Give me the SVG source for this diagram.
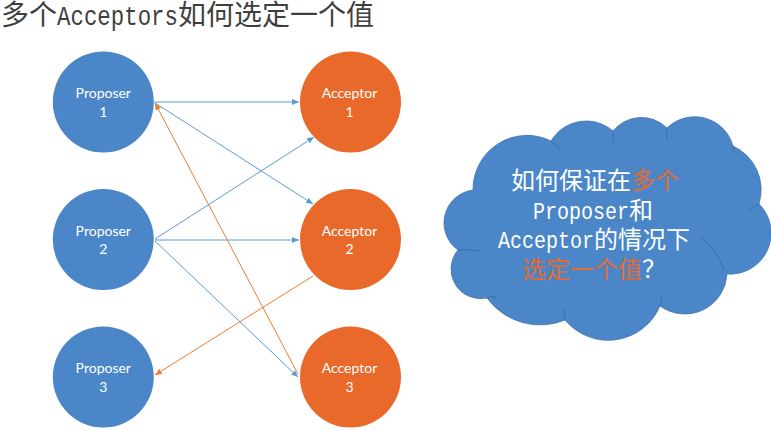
<svg xmlns="http://www.w3.org/2000/svg" width="771" height="430" viewBox="0 0 771 430">
<defs>
<style>
.title{font-family:"Noto Sans CJK SC","Noto Sans",sans-serif;font-size:28px;fill:#3f3f3f}
.mono{font-family:"Liberation Mono",monospace}
.blue{fill:#4a86c8}
.orange{fill:#e8692a}
.lbl{font-family:Lato,"Open Sans",sans-serif;font-size:14px;fill:#ffffff;text-anchor:middle}
.cl{font-family:"Noto Sans CJK SC",sans-serif;font-size:24px;fill:#ffffff}
.hl{fill:#e8692a}
.cb{stroke:#5b9bd5;stroke-width:1;fill:none;marker-end:url(#ab)}
.co{stroke:#ed7d31;stroke-width:1;fill:none;marker-end:url(#ao)}
.inner{stroke:#3d6fa8;stroke-width:1;fill:none}
</style>
<marker id="ab" markerWidth="8" markerHeight="6" refX="7" refY="3" orient="auto" markerUnits="userSpaceOnUse">
<path d="M0,0 L7,3 L0,6 Z" fill="#5b9bd5"/>
</marker>
<marker id="ao" markerWidth="8" markerHeight="6" refX="7" refY="3" orient="auto" markerUnits="userSpaceOnUse">
<path d="M0,0 L7,3 L0,6 Z" fill="#ed7d31"/>
</marker>
</defs>
<rect width="771" height="430" fill="#ffffff"/>
<text class="title" x="1" y="25">多个<tspan class="mono" textLength="121" lengthAdjust="spacingAndGlyphs">Acceptors</tspan>如何选定一个值</text>

<g id="connectors">
<line class="cb" x1="154" y1="102" x2="299" y2="102"/>
<line class="cb" x1="155" y1="103" x2="313" y2="204"/>
<line class="cb" x1="155" y1="239" x2="314" y2="137"/>
<line class="cb" x1="155" y1="240" x2="299" y2="240"/>
<line class="cb" x1="155" y1="241" x2="298" y2="377"/>
<line class="co" x1="298" y1="374" x2="155" y2="103"/>
<line class="co" x1="313" y1="276" x2="155" y2="375"/>
</g>

<g id="proposer1"><circle class="blue" cx="103.3" cy="102" r="50.5"/><text class="lbl" x="103.3" y="98.3">Proposer</text><text class="lbl" x="103.3" y="116.7">1</text></g>
<g id="proposer2"><circle class="blue" cx="103.3" cy="239.5" r="50.5"/><text class="lbl" x="103.3" y="235.8">Proposer</text><text class="lbl" x="103.3" y="254.2">2</text></g>
<g id="proposer3"><circle class="blue" cx="103.3" cy="377" r="50.5"/><text class="lbl" x="103.3" y="373.3">Proposer</text><text class="lbl" x="103.3" y="391.7">3</text></g>
<g id="acceptor1"><circle class="orange" cx="350.5" cy="102" r="50.5"/><text class="lbl" x="349.5" y="98.3">Acceptor</text><text class="lbl" x="349.5" y="116.7">1</text></g>
<g id="acceptor2"><circle class="orange" cx="350.5" cy="239.5" r="50.5"/><text class="lbl" x="349.5" y="235.8">Acceptor</text><text class="lbl" x="349.5" y="254.2">2</text></g>
<g id="acceptor3"><circle class="orange" cx="350.5" cy="377" r="50.5"/><text class="lbl" x="349.5" y="373.3">Acceptor</text><text class="lbl" x="349.5" y="391.7">3</text></g>

<g id="cloud">
<path class="blue" stroke="#4176b3" stroke-width="0.8" d="M473,190 A54,54 0 0 1 551,141 A41,41 0 0 1 613,131 A36.4,36.4 0 0 1 667,128 A39.7,39.7 0 0 1 733,146 A48,48 0 0 1 759,204 A41,41 0 0 1 727,274 A42.3,42.3 0 0 1 660,306 A56.2,56.2 0 0 1 565,320 A65.6,65.6 0 0 1 487,298 A29.6,29.6 0 0 1 458,250 A33.2,33.2 0 0 1 473,190 Z"/>
<path class="inner" d="M458,250 Q468,249 480,251"/>
<path class="inner" d="M487,298 Q492,296 497,297"/>
<path class="inner" d="M565,320 Q565,314 563,309"/>
<path class="inner" d="M660,306 Q662,300 662,294"/>
<path class="inner" d="M700,237 Q717,249 724,270"/>
<path class="inner" d="M759,204 Q754,206 748,210"/>
<path class="inner" d="M733,146 Q733,150 734,153"/>
<path class="inner" d="M667,128 Q666,134 667,140"/>
<path class="inner" d="M613,131 Q613,136 614,142"/>
<path class="inner" d="M551,141 Q556,144 560,150"/>
<text class="cl" x="511" y="189">如何保证在<tspan class="hl">多个</tspan></text>
<text class="cl" x="533" y="219"><tspan class="mono" textLength="96" lengthAdjust="spacingAndGlyphs">Proposer</tspan>和</text>
<text class="cl" x="498" y="248"><tspan class="mono" textLength="96" lengthAdjust="spacingAndGlyphs">Acceptor</tspan>的情况下</text>
<text class="cl" x="522" y="278"><tspan class="hl">选定一个值</tspan>？</text>
</g>
</svg>
